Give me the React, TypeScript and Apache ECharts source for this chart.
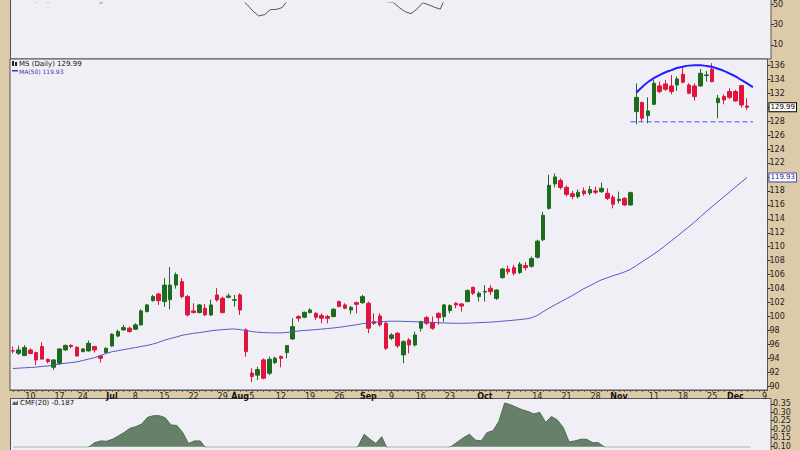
import React, { useEffect, useRef } from "react";
import * as echarts from "echarts";

// ---------- categories ----------
const holidays = ["2024-06-19", "2024-07-04", "2024-09-02", "2024-11-28"];
function tradingDays(start: string, end: string): string[] {
  const out: string[] = [];
  const d = new Date(start + "T00:00:00Z");
  const e = new Date(end + "T00:00:00Z");
  while (d <= e) {
    const wd = d.getUTCDay();
    const s = d.toISOString().slice(0, 10);
    if (wd !== 0 && wd !== 6 && !holidays.includes(s)) out.push(s);
    d.setUTCDate(d.getUTCDate() + 1);
  }
  return out;
}
const dates = tradingDays("2024-06-05", "2024-12-09");

const xTickLabels: [string, string][] = [
  ["2024-06-10", "10"], ["2024-06-17", "17"], ["2024-06-24", "24"], ["2024-07-01", "Jul"],
  ["2024-07-08", "8"], ["2024-07-15", "15"], ["2024-07-22", "22"], ["2024-07-29", "29"],
  ["2024-08-01", "Aug"], ["2024-08-05", "5"], ["2024-08-12", "12"], ["2024-08-19", "19"],
  ["2024-08-26", "26"], ["2024-09-03", "Sep"], ["2024-09-09", "9"], ["2024-09-16", "16"],
  ["2024-09-23", "23"], ["2024-10-01", "Oct"], ["2024-10-07", "7"], ["2024-10-14", "14"],
  ["2024-10-21", "21"], ["2024-10-28", "28"], ["2024-11-01", "Nov"], ["2024-11-11", "11"],
  ["2024-11-18", "18"], ["2024-11-25", "25"], ["2024-12-02", "Dec"], ["2024-12-09", "9"],
];
const monthNames = ["Jul", "Aug", "Sep", "Oct", "Nov", "Dec"];

// ---------- price candles [open, close, low, high] ----------
const candles: [number, number, number, number][] = [
  [95.1, 95.05, 94.7, 95.7], [94.73, 95.21, 94.5, 95.83], [94.4, 95.55, 94.35, 95.9], [95.2, 94.7, 94.6, 95.45],
  [94.83, 93.78, 93.06, 94.97], [95.69, 93.9, 93.78, 96.3], [93.87, 93.54, 93.3, 93.97], [92.73, 93.78, 92.35, 93.87],
  [93.3, 95.35, 93.06, 95.45], [95.21, 95.83, 95.1, 96.02], [95.87, 95.69, 95.45, 96.02], [95.6, 94.35, 94.26, 95.69],
  [94.97, 95.35, 94.9, 95.45], [95.07, 96.17, 94.97, 96.55], [95.69, 95.21, 94.83, 95.78], [94.35, 94.02, 93.4, 94.5],
  [94.83, 95.45, 94.73, 95.55], [95.78, 97.46, 95.69, 97.6], [97.2, 97.84, 97.03, 98.1], [98.08, 98.41, 97.98, 98.8],
  [98.32, 97.84, 97.7, 98.55], [98.17, 98.8, 98.08, 99.03], [98.8, 100.8, 98.7, 101.04], [100.7, 101.66, 100.6, 101.8],
  [102.28, 102.85, 102.14, 103.09], [103.23, 102.28, 101.66, 103.4], [102.14, 104.5, 101.4, 105.5], [102.4, 104.5, 101.04, 107.1],
  [104.5, 106.0, 104.0, 106.3], [105.0, 102.85, 102.6, 105.5], [102.85, 100.23, 100.0, 103.09], [100.8, 100.56, 100.46, 101.9],
  [100.56, 101.66, 100.46, 101.8], [101.18, 100.23, 100.08, 101.8], [100.23, 101.66, 100.08, 102.4], [103.09, 102.37, 102.14, 104.05],
  [102.61, 100.56, 100.46, 102.85], [102.76, 102.95, 102.6, 103.3], [102.33, 102.4, 101.42, 103.09], [103.09, 100.94, 100.23, 103.33],
  [98.08, 94.97, 94.26, 98.3], [91.9, 91.4, 90.6, 92.6], [91.6, 92.4, 90.9, 92.8], [93.78, 91.16, 91.0, 94.0],
  [91.87, 93.87, 91.6, 94.26], [93.4, 94.02, 93.2, 94.26], [94.26, 94.02, 92.73, 94.4], [94.83, 95.83, 94.02, 95.9],
  [96.79, 98.55, 96.64, 99.75], [99.99, 99.75, 99.27, 100.2], [99.9, 100.6, 99.75, 100.7], [100.56, 100.94, 100.46, 101.18],
  [100.46, 99.9, 99.51, 100.6], [100.13, 99.75, 99.03, 100.46], [99.99, 99.75, 99.03, 100.23], [99.99, 101.04, 99.9, 101.18],
  [102.14, 101.42, 101.33, 102.28], [101.66, 101.18, 101.04, 101.9], [100.94, 101.3, 100.37, 101.52], [101.99, 101.75, 100.46, 102.14],
  [101.99, 102.85, 101.8, 103.09], [101.9, 98.32, 97.6, 102.14], [99.27, 99.03, 98.8, 100.46], [100.08, 98.8, 98.55, 100.46],
  [99.03, 95.45, 95.2, 99.27], [96.88, 97.36, 96.64, 97.6], [97.6, 95.8, 95.5, 97.8], [94.5, 96.4, 93.3, 96.6],
  [96.64, 95.93, 94.7, 96.9], [95.93, 97.36, 95.69, 97.84], [98.32, 99.27, 97.84, 99.4], [99.84, 99.03, 98.8, 100.08],
  [99.12, 98.32, 98.08, 99.99], [100.46, 99.84, 98.8, 100.6], [99.99, 101.66, 99.27, 101.8], [100.85, 101.56, 100.46, 101.75],
  [101.9, 101.66, 101.18, 102.04], [101.8, 101.5, 100.7, 101.9], [102.14, 103.71, 102.04, 103.9], [104.19, 103.33, 103.09, 104.28],
  [102.85, 103.33, 102.14, 103.57], [103.5, 103.6, 102.14, 104.5], [104.05, 103.57, 103.09, 104.5], [102.6, 103.8, 102.37, 103.9],
  [105.6, 106.8, 105.4, 107.0], [106.8, 106.4, 106.0, 107.3], [107.0, 106.2, 105.9, 107.4], [106.3, 107.5, 106.1, 107.8],
  [107.3, 107.0, 106.6, 107.8], [107.2, 108.3, 107.0, 108.6], [108.5, 110.8, 108.3, 111.0], [111.0, 114.5, 110.8, 115.0],
  [115.5, 118.8, 115.3, 120.3], [119.0, 120.0, 118.5, 120.5], [119.5, 118.5, 118.2, 119.8], [118.5, 117.5, 117.2, 118.8],
  [117.6, 117.2, 116.8, 118.0], [117.2, 117.8, 116.9, 118.2], [118.0, 117.6, 117.3, 118.5], [117.7, 118.2, 117.4, 118.7],
  [118.0, 117.8, 117.5, 118.6], [117.9, 118.37, 117.7, 119.2], [117.66, 116.94, 116.7, 118.37], [117.08, 116.08, 115.5, 117.4],
  [116.6, 116.8, 116.2, 117.9], [116.94, 115.99, 115.84, 117.08], [115.99, 117.75, 115.9, 117.9], [129.36, 131.4, 127.55, 133.4],
  [130.65, 128.41, 127.93, 130.8], [128.79, 129.46, 127.69, 131.4], [130.41, 133.42, 130.3, 133.9], [133.04, 132.23, 131.99, 133.66],
  [133.33, 132.56, 132.33, 133.9], [133.04, 132.23, 131.85, 134.6], [133.18, 134.04, 132.33, 134.38], [134.71, 133.57, 133.42, 135.57],
  [133.18, 131.99, 131.85, 133.42], [133.04, 131.51, 130.94, 133.42], [133.04, 134.85, 132.95, 135.47], [134.52, 134.62, 133.66, 135.2],
  [135.43, 133.66, 133.57, 136.3], [130.65, 131.27, 128.4, 131.75], [131.51, 131.03, 130.41, 131.85], [132.23, 131.41, 131.18, 132.71],
  [132.23, 130.89, 130.79, 132.47], [133.09, 130.32, 129.93, 133.18], [130.17, 129.99, 129.6, 131.27],
];

// ---------- MA(50) ----------
const ma50 = [
  92.55, 92.6, 92.65, 92.7, 92.75, 92.85, 92.92, 93.05, 93.2, 93.3, 93.4, 93.5, 93.7, 93.9, 94.1, 94.4, 94.7, 94.95, 95.1, 95.25,
  95.4, 95.55, 95.7, 95.85, 96.05, 96.3, 96.6, 96.85, 97.05, 97.3, 97.45, 97.6, 97.7, 97.82, 97.95, 98.05, 98.12, 98.18, 98.22, 98.12,
  97.98, 97.85, 97.75, 97.7, 97.67, 97.65, 97.65, 97.72, 97.82, 97.93, 98.0, 98.06, 98.12, 98.2, 98.28, 98.36, 98.45, 98.58, 98.7, 98.82,
  98.98, 99.08, 99.17, 99.25, 99.3, 99.33, 99.33, 99.3, 99.28, 99.25, 99.22, 99.19, 99.16, 99.12, 99.08, 99.05, 99.03, 99.03, 99.05, 99.08,
  99.12, 99.16, 99.2, 99.26, 99.33, 99.4, 99.48, 99.56, 99.65, 99.82, 100.15, 100.7, 101.2, 101.65, 102.1, 102.55, 103.0, 103.5, 104.0, 104.4,
  104.85, 105.25, 105.55, 105.85, 106.1, 106.4, 106.77, 107.3, 107.85, 108.4, 108.95, 109.55, 110.2, 110.85, 111.5, 112.2, 112.85, 113.55, 114.3, 115.05,
  115.75, 116.45, 117.15, 117.85, 118.55, 119.25, 119.93,
];

// ---------- annotations (arc and support line) ----------
const arcStart = 107;
const arcValues = [132.1, 132.9, 133.6, 134.15, 134.6, 135.0, 135.3, 135.6, 135.8, 135.95, 136.0, 136.0, 135.9, 135.75, 135.5, 135.2, 134.8, 134.4, 133.9, 133.4, 132.85];
const supportStart = 106;
const supportValues = [127.9, 127.9, 127.9, 127.9, 127.9, 127.9, 127.9, 127.9, 127.9, 127.9, 127.9, 127.9, 127.9, 127.9, 127.9, 127.9, 127.9, 127.9, 127.9, 127.9, 127.9, 127.9];

// ---------- upper indicator ----------
const upper = [
  55, 54, 56, 54, 52, 53, 52, 53, 58, 60, 59, 55, 57, 60, 56, 50.7, 54, 62, 64, 66,
  63, 66, 72, 74, 76, 72, 75, 76, 77, 68, 60, 59, 62, 58, 62, 64, 57, 62, 62, 55,
  49.5, 43, 38.3, 39.6, 44.5, 44.7, 46.5, 54, 60, 62, 63, 64, 61, 60, 59, 62, 60, 59, 60, 58,
  60, 54, 55, 54, 52, 51.5, 46.5, 42.5, 40.5, 45, 51.2, 49.3, 46.8, 45.0, 58, 60, 59, 58, 63, 61,
  62, 62, 61, 63, 68, 70, 69, 71, 70, 72, 76, 80, 84, 85, 80, 76, 74, 75, 73, 75,
  73, 74, 70, 66, 67, 64, 68, 82, 76, 77, 81, 79, 79, 77, 80, 77, 72, 70, 75, 75,
  74, 63, 62, 63, 61, 58, 57,
];

// ---------- CMF(20) ----------
const cmf = [
  0.02, 0.03, 0.01, 0.0, -0.02, -0.01, 0.01, 0.03, 0.05, 0.06, 0.07, 0.05, 0.07, 0.095, 0.12, 0.13, 0.128, 0.14, 0.16, 0.18,
  0.205, 0.215, 0.23, 0.27, 0.28, 0.28, 0.268, 0.225, 0.222, 0.18, 0.115, 0.13, 0.13, 0.085, 0.06, 0.07, 0.04, 0.05, 0.03, 0.0,
  -0.06, -0.08, -0.09, -0.1, -0.07, -0.06, -0.05, -0.03, 0.0, 0.01, 0.02, 0.03, 0.02, 0.03, 0.04, 0.05, 0.06, 0.06, 0.07, 0.1,
  0.17, 0.14, 0.115, 0.155, 0.08, 0.06, 0.03, 0.04, 0.02, 0.03, 0.05, 0.04, 0.03, 0.05, 0.08, 0.1, 0.125, 0.15, 0.17, 0.135,
  0.13, 0.18, 0.19, 0.245, 0.355, 0.345, 0.33, 0.315, 0.305, 0.29, 0.3, 0.24, 0.275, 0.255, 0.21, 0.125, 0.13, 0.14, 0.14, 0.12,
  0.12, 0.095, 0.07, 0.05, 0.04, 0.02, 0.03, 0.06, 0.04, 0.03, 0.05, 0.02, 0.0, -0.02, -0.01, -0.03, -0.06, -0.08, -0.07, -0.09,
  -0.1, -0.12, -0.13, -0.14, -0.15, -0.17, -0.187,
];

const mainTicks = [90, 92, 94, 96, 98, 100, 102, 104, 106, 108, 110, 112, 114, 116, 118, 120, 122, 124, 126, 128, 130, 132, 134, 136];
const mainLabels = [90, 92, 94, 96, 98, 100, 102, 104, 106, 108, 110, 112, 114, 116, 118, 122, 124, 126, 128, 132, 134, 136];
const upperTicks = [10, 30, 50];
const cmfTicks = [0.1, 0.15, 0.2, 0.25, 0.3, 0.35];

const TAN = "#dccaa8";
const PANEL = "#efeff5";
const BORDER = "#555555";
const FONT = "DejaVu Sans";
const UP = "#1d6b1d";
const DOWN = "#e0143c";

const MAIN_MIN = 89.47;
const MAIN_MAX = 136.9;

function padded(start: number, vals: number[]) {
  const arr: (number | null)[] = dates.map(() => null);
  vals.forEach((v, i) => (arr[start + i] = v));
  return arr;
}

export default function App() {
  const ref = useRef<HTMLDivElement>(null);
  useEffect(() => {
    if (!ref.current) return;
    const chart = echarts.init(ref.current, null, { renderer: "svg" });
    const labelMap: Record<string, string> = {};
    xTickLabels.forEach(([d, t]) => (labelMap[d] = t));
    const lastClose = candles[candles.length - 1][1];
    const lastMa = ma50[ma50.length - 1];
    const lastCmf = cmf[cmf.length - 1];

    const gridCommon = { left: 10, width: 761, containLabel: false };
    const hiddenX = (gi: number) => ({
      type: "category", gridIndex: gi, data: dates, boundaryGap: true,
      axisLine: { show: false }, axisTick: { show: false }, axisLabel: { show: false }, splitLine: { show: false },
    });
    const yCommon = (gi: number, min: number, max: number, ticks: number[], labels: number[], fmt: (v: number) => string) => ({
      type: "value", gridIndex: gi, position: "right", min, max,
      splitLine: { show: false }, axisLine: { show: false },
      axisTick: { show: true, length: 3, inside: false, customValues: ticks, lineStyle: { color: "#333" } },
      axisLabel: { show: true, customValues: labels, formatter: fmt, fontSize: 8, fontFamily: FONT, color: "#222", margin: 2 },
    });
    const tagAxis = (value: number, color: string, border: string) => ({
      type: "value", gridIndex: 1, position: "right", min: MAIN_MIN, max: MAIN_MAX,
      splitLine: { show: false }, axisLine: { show: false }, axisTick: { show: false },
      axisLabel: {
        show: true, customValues: [value], formatter: (v: number) => v.toFixed(2), margin: 2,
        fontSize: 7, fontFamily: FONT, color, backgroundColor: "#fff",
        borderColor: border, borderWidth: 1, padding: [1, 1, 0, 1],
      },
    });

    const option: any = {
      animation: false,
      backgroundColor: TAN,
      grid: [
        { ...gridCommon, top: 0, height: 59, show: false },
        { ...gridCommon, top: 59, height: 331, show: true, backgroundColor: PANEL, borderColor: BORDER, borderWidth: 1 },
        { ...gridCommon, top: 398, height: 52, show: false },
      ],
      xAxis: [
        hiddenX(0),
        {
          type: "category", gridIndex: 1, data: dates, boundaryGap: true, position: "bottom",
          axisLine: { show: true, lineStyle: { color: BORDER } },
          axisTick: { show: true, interval: 0, length: 2, alignWithLabel: true, lineStyle: { color: "#6b5a3a" } },
          axisLabel: {
            show: true, interval: 0, margin: 2, fontSize: 8, fontFamily: FONT, color: "#222",
            formatter: (v: string) => {
              const t = labelMap[v];
              if (!t) return "";
              return monthNames.includes(t) ? `{m|${t}}` : t;
            },
            rich: { m: { fontWeight: "bold", fontSize: 8, fontFamily: FONT, color: "#111" } },
          },
          splitLine: { show: false },
        },
        hiddenX(2),
      ],
      yAxis: [
        yCommon(0, -3.95, 50.93, upperTicks, upperTicks, (v: number) => String(v)),
        yCommon(1, MAIN_MIN, MAIN_MAX, mainTicks, mainLabels, (v: number) => String(v)),
        yCommon(2, 0.0961, 0.385, cmfTicks, cmfTicks, (v: number) => v.toFixed(2)),
        tagAxis(lastClose, "#000", "#000"),
        tagAxis(lastMa, "#22228a", "#4a4ab0"),
      ],
      series: [
        {
          type: "line", xAxisIndex: 0, yAxisIndex: 0, data: upper, showSymbol: false, clip: true,
          lineStyle: { color: "#555", width: 1 },
        },
        {
          type: "candlestick", xAxisIndex: 1, yAxisIndex: 1, data: candles, barWidth: 4, clip: true,
          itemStyle: { color: UP, color0: DOWN, borderColor: UP, borderColor0: DOWN, borderWidth: 1 },
        },
        {
          type: "line", xAxisIndex: 1, yAxisIndex: 1, data: ma50, showSymbol: false,
          lineStyle: { color: "#5858c8", width: 1 },
        },
        {
          type: "line", xAxisIndex: 1, yAxisIndex: 1, data: padded(arcStart, arcValues), showSymbol: false, smooth: true,
          lineStyle: { color: "#1f1fff", width: 2 },
        },
        {
          type: "line", xAxisIndex: 1, yAxisIndex: 1, data: padded(supportStart, supportValues), showSymbol: false,
          lineStyle: { color: "#4b4bff", width: 1, type: [5, 3] },
        },
        {
          type: "line", xAxisIndex: 2, yAxisIndex: 2, data: cmf, showSymbol: false, clip: true,
          lineStyle: { color: "#4f6a52", width: 1 },
          areaStyle: { color: "#66806a", opacity: 1, origin: "start" },
        },
      ],
      graphic: [
        { type: "rect", z: -10, shape: { x: 10.5, y: -5, width: 760.5, height: 64 }, style: { fill: PANEL, stroke: BORDER, lineWidth: 1 } },
        { type: "rect", z: -10, shape: { x: 10.5, y: 398.5, width: 760.5, height: 60 }, style: { fill: PANEL, stroke: BORDER, lineWidth: 1 } },
        { type: "rect", z: 101, shape: { x: 12, y: 61, width: 2, height: 5 }, style: { fill: "#222" } },
        { type: "rect", z: 101, shape: { x: 15, y: 62, width: 2, height: 4 }, style: { fill: "#222" } },
        {
          type: "text", x: 19, y: 63.5, z: 101,
          style: { text: `MS (Daily) ${lastClose.toFixed(2)}`, fontSize: 7, fontFamily: FONT, fill: "#111", verticalAlign: "middle" },
        },
        { type: "rect", z: 101, shape: { x: 12, y: 70, width: 6, height: 1.5 }, style: { fill: "#3a3ab0" } },
        {
          type: "text", x: 19, y: 71, z: 101,
          style: { text: `MA(50) ${lastMa.toFixed(2)}`, fontSize: 6, fontFamily: FONT, fill: "#3a3ab0", verticalAlign: "middle" },
        },
        { type: "polygon", z: 101, shape: { points: [[12, 405], [14, 401], [16, 403], [18, 400], [18, 405]] }, style: { fill: "#4f6a52" } },
        {
          type: "text", x: 20, y: 403, z: 101,
          style: { text: `CMF(20) ${lastCmf.toFixed(3)}`, fontSize: 7, fontFamily: FONT, fill: "#111", verticalAlign: "middle" },
        },
      ],
    };
    chart.setOption(option);
    return () => chart.dispose();
  }, []);
  return <div ref={ref} style={{ position: "fixed", left: 0, top: 0, width: 800, height: 450 }} />;
}
